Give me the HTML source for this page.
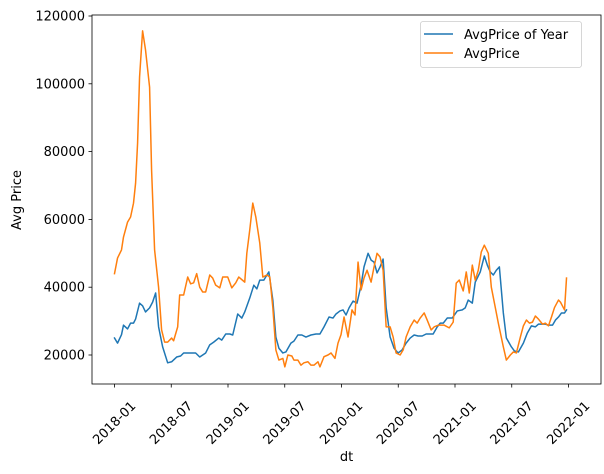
<!DOCTYPE html>
<html><head><meta charset="utf-8"><style>
html,body{margin:0;padding:0;background:#fff;}
svg{display:block;font-family:"DejaVu Sans","Liberation Sans",sans-serif;}
</style></head><body>
<svg id="chart" width="604" height="474" viewBox="0 0 604 474" xmlns="http://www.w3.org/2000/svg">
<g id="plot"></g>
</svg>
<script>
// months since 2018-01
const orangeMonths=[0,0.32,0.74,0.95,1.38,1.70,2.01,2.23,2.44,2.65,2.97,3.28,3.71,3.92,4.24,4.66,4.98,5.30,5.62,6.04,6.25,6.68,6.89,7.31,7.74,8.05,8.37,8.69,9.01,9.32,9.64,10.07,10.38,10.70,11.13,11.44,11.97,12.40,12.82,13.14,13.77,13.99,14.30,14.62,14.94,15.36,15.68,16.11,16.42,16.74,17.06,17.38,17.80,18.01,18.33,18.75,18.97,19.39,19.71,20.03,20.45,20.77,21.09,21.51,21.72,22.15,22.57,22.89,23.31,23.63,23.95,24.27,24.69,25.11,25.43,25.75,26.07,26.38,26.70,27.13,27.44,27.76,28.08,28.40,28.72,29.14,29.46,29.77,30.20,30.52,30.83,31.26,31.68,32.00,32.32,32.74,33.06,33.48,33.80,34.23,34.86,35.39,35.81,36.13,36.45,36.87,37.19,37.51,37.83,38.14,38.46,38.78,39.10,39.52,39.84,40.26,40.58,41.11,41.43,41.85,42.17,42.49,42.91,43.23,43.55,43.87,44.19,44.50,44.82,45.25,45.56,45.88,46.20,46.52,46.94,47.15,47.58,47.79];
const orangeValues=[44000,48600,51000,54800,59200,60700,64800,70700,82500,102000,115600,110000,99000,74600,51000,40000,27400,23800,23800,25000,24200,28300,37700,37700,43000,41000,41300,44000,40000,38600,38600,43600,42700,40600,39800,43000,43000,39800,41300,43000,41500,50000,56900,64800,60700,53000,43000,43600,43000,34000,21500,18500,19000,16500,20000,19700,18500,18500,17000,17700,18000,17000,17000,18000,16500,19500,20000,20600,19000,23500,26000,31200,25300,33300,31800,47400,39200,42700,45000,41500,46000,50000,48900,45000,28300,28300,25300,20600,20000,21500,25300,28300,30300,29400,30900,32400,30300,27400,28300,28800,28800,28000,29700,41200,42100,38900,44500,38300,46500,42100,45000,50400,52400,50000,40000,34000,29400,22400,18500,20000,20900,20600,25300,28600,30300,29400,29700,31500,30600,29100,29400,28600,31200,34000,36200,35600,33300,42700];
const blueMonths=[0,0.32,0.74,0.95,1.38,1.70,2.01,2.23,2.65,2.97,3.28,3.71,4.03,4.35,4.66,5.09,5.62,6.04,6.57,6.99,7.31,8.05,8.58,9.01,9.64,10.07,10.49,11.02,11.34,11.76,12.19,12.50,13.03,13.46,13.77,14.30,14.73,15.05,15.36,15.79,16.11,16.32,16.74,17.06,17.38,17.80,18.12,18.65,18.97,19.39,19.81,20.24,20.77,21.30,21.72,22.15,22.68,23.10,23.42,23.84,24.16,24.48,24.80,25.22,25.64,26.07,26.38,26.81,27.13,27.44,27.76,28.08,28.40,28.72,29.14,29.56,29.98,30.41,30.83,31.26,31.68,32.10,32.53,32.95,33.38,33.69,34.12,34.44,34.76,35.18,35.71,36.24,36.77,37.08,37.40,37.83,38.14,38.67,39.10,39.42,39.73,40.05,40.37,40.69,41.11,41.43,41.96,42.28,42.70,43.23,43.65,44.08,44.50,44.82,45.25,45.56,45.88,46.31,46.62,46.94,47.26,47.58,47.79];
const blueValues=[25000,23500,26000,28800,27700,29400,29400,30600,35300,34500,32700,33900,35600,38300,28300,22400,17700,18000,19400,19700,20600,20600,20600,19400,20600,23000,23800,25000,24400,26200,26200,25900,32100,30900,32700,36800,40600,39500,42100,42100,43600,44500,36200,25300,22000,20600,20900,23500,24100,25900,25900,25300,25900,26200,26200,28300,31200,30900,32100,33000,33300,31800,33900,35900,35300,40600,46000,50000,48000,47400,44200,46000,48300,34000,25300,22000,20600,21500,23500,25000,25900,25600,25600,26200,26200,26200,28300,29400,29400,30900,30900,33000,33300,33900,36200,35300,41500,44500,49200,46500,44500,43600,45000,46000,32400,25000,22400,21200,20900,23500,26500,28600,28300,29100,29100,29100,28800,28800,30300,31200,32400,32400,33300,34500];
const yTicks=[20000,40000,60000,80000,100000,120000];
const xTickMonths=[0,6,12,18,24,30,36,42,48];
const xTickLabels=["2018-01","2018-07","2019-01","2019-07","2020-01","2020-07","2021-01","2021-07","2022-01"];

const L=92,R=601,T=15,B=384;
const xs=m=>114.5+m*(454/48);
const ys=v=>355-(v-20000)*(339/100000);
const NS="http://www.w3.org/2000/svg";
const g=document.getElementById('plot');
function mk(tag,attrs,parent){const e=document.createElementNS(NS,tag);for(const k in attrs)e.setAttribute(k,attrs[k]);(parent||g).appendChild(e);return e;}

function line(ms,vs,color,name){
  const d=ms.map((m,i)=>(i?'L':'M')+xs(m).toFixed(2)+' '+ys(vs[i]).toFixed(2)).join(' ');
  const p=mk('path',{d:d,fill:'none',stroke:color,'stroke-width':1.5,'stroke-linejoin':'round','stroke-linecap':'square'});
  
  
}
line(blueMonths,blueValues,'#1f77b4','avgprice-of-year-line');
line(orangeMonths,orangeValues,'#ff7f0e','avgprice-line');

const frame=mk('rect',{x:L,y:T,width:R-L,height:B-T,fill:'none',stroke:'#000','stroke-width':0.8});



yTicks.forEach(v=>{
  const y=ys(v);
  const t=mk('line',{x1:L-3.5,x2:L,y1:y,y2:y,stroke:'#000','stroke-width':0.8});
  
  
  const tx=mk('text',{x:L-7,y:y+4.5,'text-anchor':'end','font-size':13,fill:'#000'});
  tx.textContent=v;
  
  
});
xTickMonths.forEach((m,i)=>{
  const x=xs(m);
  const t=mk('line',{x1:x,x2:x,y1:B,y2:B+3.5,stroke:'#000','stroke-width':0.8});
  
  
  const tx=mk('text',{x:x,y:427,'text-anchor':'middle','font-size':13,fill:'#000',transform:'rotate(-45 '+x+' 423)'});
  tx.textContent=xTickLabels[i];
  
  
});
const xl=mk('text',{x:(L+R)/2,y:461,'text-anchor':'middle','font-size':13,fill:'#000'});
xl.textContent='dt';


const yl=mk('text',{x:21,y:200,'text-anchor':'middle','font-size':13,fill:'#000',transform:'rotate(-90 21 200)'});
yl.textContent='Avg Price';



const lg=mk('g',{});


mk('rect',{x:420.5,y:21.5,width:161,height:46,rx:2.5,fill:'#fff','fill-opacity':0.8,stroke:'#ccc','stroke-width':0.8},lg);
[['AvgPrice of Year','#1f77b4',34],['AvgPrice','#ff7f0e',53]].forEach(([lab,c,y])=>{
  const e=mk('g',{},lg);
  
  
  mk('line',{x1:424,x2:453,y1:y,y2:y,stroke:c,'stroke-width':1.5},e);
  const t=mk('text',{x:464,y:y+5,'font-size':13,fill:'#000'},e);
  t.textContent=lab;
});
</script>
</body></html>
